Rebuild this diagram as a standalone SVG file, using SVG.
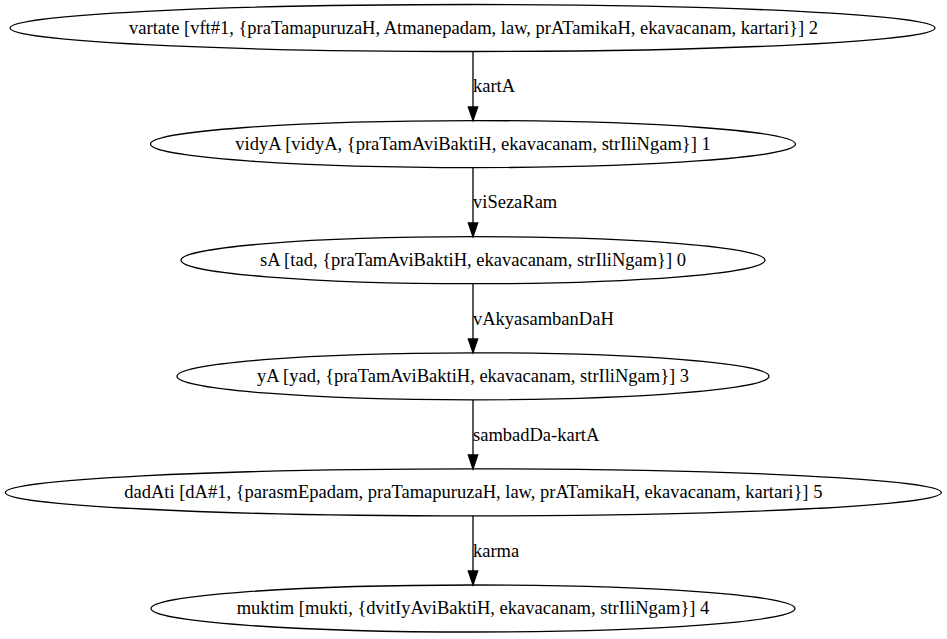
<svg xmlns="http://www.w3.org/2000/svg" width="947" height="639" viewBox="0 0 947 639">
<style>
.n ellipse{fill:none;stroke:#000;stroke-width:1.3}
.e line{stroke:#000;stroke-width:1.3}
.e polygon{fill:#000;stroke:#000;stroke-width:1.3}
</style>
<rect width="947" height="639" fill="#fff"/>
<g id="connectors" class="e" font-family="Liberation Serif, Times New Roman, serif" font-size="18.5" fill="#000">
<g id="e1"><line x1="473" y1="51.5" x2="473" y2="108"/><polygon points="468.3,107 477.7,107 473,120.6"/><text x="473" y="92">kartA</text></g>
<g id="e2"><line x1="473" y1="167.6" x2="473" y2="224"/><polygon points="468.3,223 477.7,223 473,236.7"/><text x="473" y="208">viSezaRam</text></g>
<g id="e3"><line x1="473" y1="283.7" x2="473" y2="340"/><polygon points="468.3,339 477.7,339 473,352.8"/><text x="473" y="325">vAkyasambanDaH</text></g>
<g id="e4"><line x1="473" y1="399.8" x2="473" y2="456"/><polygon points="468.3,455 477.7,455 473,468.9"/><text x="473" y="441">sambadDa-kartA</text></g>
<g id="e5"><line x1="473" y1="515.9" x2="473" y2="572"/><polygon points="468.3,571 477.7,571 473,585"/><text x="473" y="557">karma</text></g>
</g>
<g font-family="Liberation Serif, Times New Roman, serif" font-size="18.5" text-anchor="middle" fill="#000">
<g id="n2" class="n"><ellipse cx="472.5" cy="28" rx="462.5" ry="23.5"/><text x="473.5" y="34">vartate [vft#1, {praTamapuruzaH, Atmanepadam, law, prATamikaH, ekavacanam, kartari}] 2</text></g>
<g id="n1" class="n"><ellipse cx="473" cy="144.1" rx="322.5" ry="23.5"/><text x="473" y="150">vidyA [vidyA, {praTamAviBaktiH, ekavacanam, strIliNgam}] 1</text></g>
<g id="n0" class="n"><ellipse cx="473" cy="260.2" rx="292" ry="23.5"/><text x="473" y="266">sA [tad, {praTamAviBaktiH, ekavacanam, strIliNgam}] 0</text></g>
<g id="n3" class="n"><ellipse cx="473" cy="376.3" rx="296" ry="23.5"/><text x="473" y="382">yA [yad, {praTamAviBaktiH, ekavacanam, strIliNgam}] 3</text></g>
<g id="n5" class="n"><ellipse cx="473.3" cy="492.4" rx="468" ry="23.5"/><text x="473.3" y="498">dadAti [dA#1, {parasmEpadam, praTamapuruzaH, law, prATamikaH, ekavacanam, kartari}] 5</text></g>
<g id="n4" class="n"><ellipse cx="473" cy="608.5" rx="322" ry="23.5"/><text x="473" y="614">muktim [mukti, {dvitIyAviBaktiH, ekavacanam, strIliNgam}] 4</text></g>
</g>
</svg>
